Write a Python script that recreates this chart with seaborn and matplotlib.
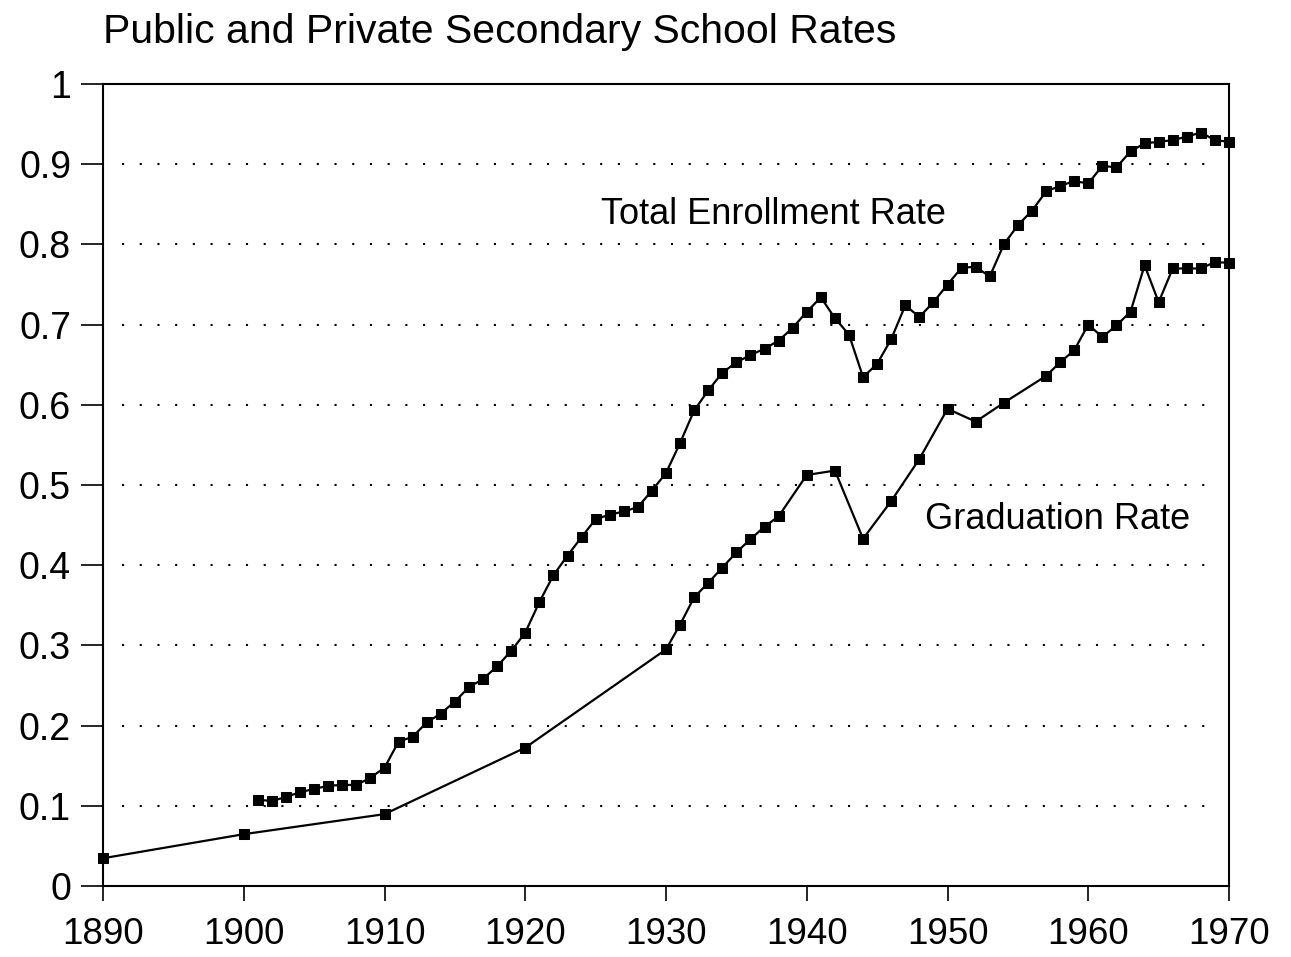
import matplotlib
matplotlib.use("Agg")
import matplotlib.pyplot as plt
import seaborn as sns
import pandas as pd

# Total enrollment rate, yearly 1901-1970
enroll_years = list(range(1901, 1971))
enroll_rate = [0.1075, 0.106, 0.111, 0.117, 0.121, 0.125, 0.126, 0.126, 0.135, 0.1475,
               0.180, 0.186, 0.204, 0.215, 0.230, 0.248, 0.258, 0.274, 0.293, 0.316,
               0.354, 0.3875, 0.412, 0.435, 0.4575, 0.463, 0.467, 0.4725, 0.493, 0.515,
               0.5525, 0.593, 0.618, 0.640, 0.653, 0.662, 0.670, 0.680, 0.696, 0.716,
               0.734, 0.708, 0.6875, 0.6345, 0.651, 0.682, 0.724, 0.7095, 0.728, 0.750,
               0.771, 0.772, 0.760, 0.800, 0.824, 0.842, 0.866, 0.873, 0.879, 0.876,
               0.898, 0.896, 0.916, 0.926, 0.928, 0.930, 0.9345, 0.9395, 0.930, 0.928]

# Graduation rate
grad_years = [1890, 1900, 1910, 1920, 1930, 1931, 1932, 1933, 1934, 1935, 1936, 1937,
              1938, 1940, 1942, 1944, 1946, 1948, 1950, 1952, 1954, 1957, 1958, 1959,
              1960, 1961, 1962, 1963, 1964, 1965, 1966, 1967, 1968, 1969, 1970]
grad_rate = [0.0346, 0.0646, 0.0896, 0.1725, 0.295, 0.326, 0.360, 0.378, 0.397, 0.416,
             0.4325, 0.448, 0.461, 0.5125, 0.518, 0.433, 0.480, 0.5325, 0.595, 0.579,
             0.6025, 0.636, 0.653, 0.668, 0.700, 0.6845, 0.699, 0.716, 0.774, 0.728,
             0.770, 0.770, 0.770, 0.778, 0.777]

x_ticks = [1890, 1900, 1910, 1920, 1930, 1940, 1950, 1960, 1970]
y_ticks = [0, 0.1, 0.2, 0.3, 0.4, 0.5, 0.6, 0.7, 0.8, 0.9, 1]
grid_levels = [0.1, 0.2, 0.3, 0.4, 0.5, 0.6, 0.7, 0.8, 0.9]

sns.set_style("ticks")
plt.rcParams["font.family"] = ["Liberation Sans", "DejaVu Sans"]
plt.rcParams["text.color"] = "black"

fig = plt.figure(figsize=(12.91, 9.57), dpi=100)
ax = fig.add_axes([0.0798, 0.0742, 0.8722, 0.838])

enroll = pd.DataFrame({"year": enroll_years, "rate": enroll_rate})
grad = pd.DataFrame({"year": grad_years, "rate": grad_rate})

for df in (enroll, grad):
    sns.lineplot(data=df, x="year", y="rate", ax=ax, color="black", linewidth=1.6,
                 marker="s", markersize=7, markeredgecolor="black", clip_on=False)

# dotted reference lines
for lvl in grid_levels:
    ax.axhline(lvl, xmin=0.017, xmax=0.986, color="black", linewidth=1.5,
               linestyle=(0, (1, 7.5)), zorder=0)

ax.set_xlim(1890, 1970)
ax.set_ylim(0, 1)
ax.set_xticks(x_ticks)
ax.set_yticks(y_ticks)
ax.set_yticklabels([f"{v:g}" for v in y_ticks])
ax.set_xlabel("")
ax.set_ylabel("")

for side in ["left", "right", "top", "bottom"]:
    ax.spines[side].set_visible(True)
    ax.spines[side].set_linewidth(1.5)
    ax.spines[side].set_color("black")

ax.tick_params(axis="x", direction="out", length=11, width=1.2, pad=11,
               labelsize=26.5, colors="black")
ax.tick_params(axis="y", direction="out", length=16, width=1.2, pad=7,
               labelsize=27, colors="black")

ax.text(1925.4, 0.8375, "Total Enrollment Rate", fontsize=26, ha="left", va="center",
        color="black")
ax.text(1948.4, 0.4575, "Graduation Rate", fontsize=26, ha="left", va="center",
        color="black")

fig.text(103 / 1291, 1 - 43 / 957, "Public and Private Secondary School Rates",
         fontsize=29.5, ha="left", va="baseline", color="black")

fig.savefig("out.png", dpi=100)
